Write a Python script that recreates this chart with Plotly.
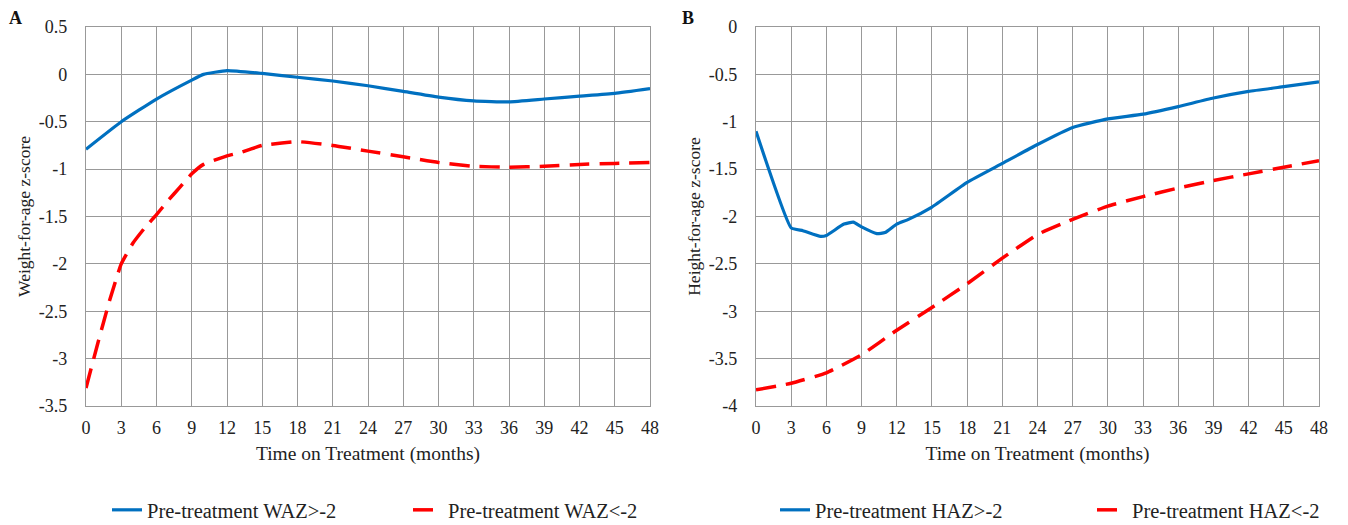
import plotly.graph_objects as go

# ---------------- data ----------------
months_waz_hi = [0, 3, 6, 9, 10, 12, 15, 18, 21, 24, 27, 30, 33, 36, 39, 42, 45, 48]
waz_hi = [-0.79, -0.5, -0.26, -0.06, 0.0, 0.04, 0.01, -0.03, -0.07, -0.12, -0.18, -0.24,
          -0.28, -0.29, -0.26, -0.23, -0.2, -0.15]

months_waz_lo = [0, 1, 2, 3, 4, 5, 6, 7, 8, 9, 10, 12, 13, 15, 18, 21, 24, 27, 30, 33, 36, 39,
                 42, 45, 48]
waz_lo = [-3.31, -2.84, -2.39, -2.0, -1.78, -1.62, -1.48, -1.33, -1.19, -1.05, -0.95, -0.86,
          -0.83, -0.75, -0.71, -0.75, -0.81, -0.87, -0.93, -0.97, -0.98, -0.97, -0.95, -0.94, -0.93]

months_haz_hi = [0, 3, 4, 5.5, 6, 7.5, 8.3, 9, 10.3, 11, 12, 13, 15, 18, 21, 24, 27, 30, 33,
                 36, 39, 42, 45, 48]
haz_hi = [-1.1, -2.12, -2.15, -2.21, -2.2, -2.08, -2.06, -2.11, -2.18, -2.17, -2.08, -2.03,
          -1.9, -1.64, -1.44, -1.24, -1.06, -0.97, -0.92, -0.84, -0.75, -0.68, -0.63, -0.58]

months_haz_lo = [0, 3, 6, 9, 12, 15, 18, 21, 24, 27, 30, 33, 36, 39, 42, 45, 48]
haz_lo = [-3.83, -3.76, -3.65, -3.46, -3.2, -2.96, -2.71, -2.44, -2.19, -2.03, -1.89, -1.79,
          -1.7, -1.62, -1.55, -1.48, -1.41]

x_ticks = list(range(0, 49, 3))
x_tick_labels = [str(v) for v in x_ticks]
y_ticks_a = [0.5, 0, -0.5, -1, -1.5, -2, -2.5, -3, -3.5]
y_tick_labels_a = ["0.5", "0", "-0.5", "-1", "-1.5", "-2", "-2.5", "-3", "-3.5"]
y_ticks_b = [0, -0.5, -1, -1.5, -2, -2.5, -3, -3.5, -4]
y_tick_labels_b = ["0", "-0.5", "-1", "-1.5", "-2", "-2.5", "-3", "-3.5", "-4"]

# ---------------- style ----------------
FONT = "Liberation Serif"
BLUE = "#0070C0"
RED = "#FF0000"
GRID = "#999999"
TXT = "#222222"
W, H = 1348, 525

solid = dict(color=BLUE, width=3.2, shape="spline", smoothing=0.4)
dashed = dict(color=RED, width=3.5, dash="20px,10px", shape="spline", smoothing=0.4)

fig = go.Figure()
fig.add_trace(go.Scatter(x=months_waz_hi, y=waz_hi, mode="lines", name="Pre-treatment WAZ>-2",
                         line=solid, xaxis="x", yaxis="y", legend="legend", legendwidth=256))
fig.add_trace(go.Scatter(x=months_waz_lo, y=waz_lo, mode="lines", name="Pre-treatment WAZ<-2",
                         line=dashed, xaxis="x", yaxis="y", legend="legend"))
fig.add_trace(go.Scatter(x=months_haz_hi, y=haz_hi, mode="lines", name="Pre-treatment HAZ>-2",
                         line=solid, xaxis="x2", yaxis="y2", legend="legend2", legendwidth=272))
fig.add_trace(go.Scatter(x=months_haz_lo, y=haz_lo, mode="lines", name="Pre-treatment HAZ<-2",
                         line=dashed, xaxis="x2", yaxis="y2", legend="legend2"))

def xax(domain, anchor):
    return dict(domain=domain, anchor=anchor, range=[0, 48], tickvals=x_ticks, ticktext=x_tick_labels,
                showgrid=True, gridcolor=GRID, gridwidth=1.2, showline=True, linecolor=GRID,
                linewidth=1.2, mirror=True, zeroline=False, ticks="", ticklabelstandoff=5,
                tickfont=dict(family=FONT, size=18, color=TXT),
                title=dict(text="Time on Treatment (months)", font=dict(family=FONT, size=19.5, color=TXT),
                           standoff=9),
                automargin=False, fixedrange=True)

def yax(domain, anchor, rng, tv, tt, title):
    return dict(domain=domain, anchor=anchor, range=rng, tickvals=tv, ticktext=tt,
                showgrid=True, gridcolor=GRID, gridwidth=1.2, showline=True, linecolor=GRID,
                linewidth=1.2, mirror=True, zeroline=False, ticks="", ticklabelstandoff=14,
                tickfont=dict(family=FONT, size=18, color=TXT),
                title=dict(text=title, font=dict(family=FONT, size=17.5, color=TXT), standoff=3),
                automargin=False, fixedrange=True)

ydom = [1 - 406 / H, 1 - 27 / H]
fig.update_layout(
    width=W, height=H,
    margin=dict(l=0, r=0, t=0, b=0, autoexpand=False),
    paper_bgcolor="white", plot_bgcolor="white",
    font=dict(family=FONT, color=TXT),
    xaxis=xax([86 / W, 650 / W], "y"),
    yaxis=yax(ydom, "x", [-3.5, 0.5], y_ticks_a, y_tick_labels_a, "Weight-for-age z-score"),
    xaxis2=xax([756 / W, 1319 / W], "y2"),
    yaxis2=yax(ydom, "x2", [-4, 0], y_ticks_b, y_tick_labels_b, "Height-for-age z-score"),
    legend=dict(orientation="h", x=107 / W, y=1 - 510 / H, xanchor="left", yanchor="middle",
                font=dict(family=FONT, size=20.5, color=TXT), bgcolor="rgba(0,0,0,0)"),
    legend2=dict(orientation="h", x=775 / W, y=1 - 510 / H, xanchor="left", yanchor="middle",
                 font=dict(family=FONT, size=20.5, color=TXT), bgcolor="rgba(0,0,0,0)"),
    annotations=[
        dict(text="<b>A</b>", x=15 / W, y=1 - 18 / H, xref="paper", yref="paper",
             xanchor="center", yanchor="middle",
             showarrow=False, font=dict(family=FONT, size=18, color="#111")),
        dict(text="<b>B</b>", x=688 / W, y=1 - 18 / H, xref="paper", yref="paper",
             xanchor="center", yanchor="middle",
             showarrow=False, font=dict(family=FONT, size=18, color="#111")),
    ],
)

fig.write_html("out.html")
